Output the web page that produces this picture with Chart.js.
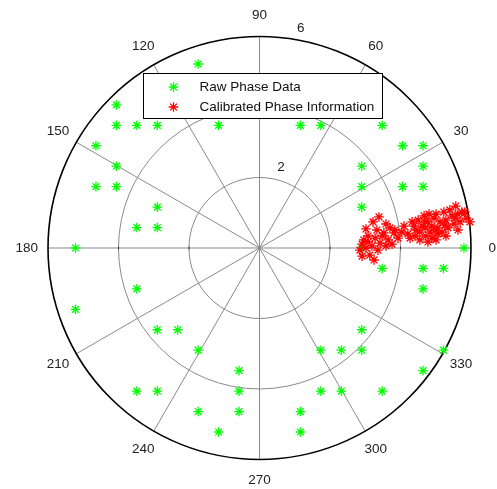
<!DOCTYPE html>
<html>
<head>
<meta charset="utf-8">
<script src="https://cdn.jsdelivr.net/npm/chart.js@4/dist/chart.umd.min.js"></script>
<style>
  html, body { margin: 0; padding: 0; background: #fff; }
  #wrap { width: 497px; height: 489px; }
</style>
</head>
<body>
<div id="wrap"><canvas id="polarChart" width="497" height="489"></canvas></div>
<script>
// raw phase data (in-phase / quadrature)
const rawI = [-1.74, -4.06, -4.06, -3.48, -2.90, -1.16, -4.64, -4.06, -4.64, -4.06, -2.90, -3.48, -2.90, -5.22,
  1.16, 1.74, 3.48, 4.06, 4.64, 2.90, 4.64, 2.90, 4.06, 4.64, 2.90, 5.80, 2.90,
  -3.48, -5.22, -2.90, -2.32, -1.74, -0.58, -3.48, -2.90, -0.58, -1.74, -0.58, -1.16,
  3.48, 4.64, 5.22, 4.64, 2.90, 1.74, 2.32, 2.90, 5.22, 4.64, 1.74, 2.32, 3.48, 1.16, 1.16];
const rawQ = [5.22, 4.06, 3.48, 3.48, 3.48, 3.48, 2.90, 2.32, 1.74, 1.74, 1.16, 0.58, 0.58, 0,
  3.48, 3.48, 3.48, 2.90, 2.90, 2.32, 2.32, 1.74, 1.74, 1.74, 1.16, 0, 0,
  -1.16, -1.74, -2.32, -2.32, -2.90, -3.48, -4.06, -4.06, -4.06, -4.64, -4.64, -5.22,
  -0.58, -0.58, -0.58, -1.16, -2.32, -2.90, -2.90, -2.90, -2.90, -3.48, -4.06, -4.06, -4.06, -4.64, -5.22];

// calibrated phase information (red cluster)
const calI = [3.39, 3.22, 3.59, 3.70, 3.02, 3.33, 3.53, 3.82, 3.28, 3.65, 3.93, 3.08, 3.42, 2.91, 3.19, 3.59,
  2.85, 3.02, 3.36, 3.13, 2.96, 3.76,
  4.04, 4.21, 4.33, 4.50, 4.44, 4.61, 4.67, 4.78, 4.84, 4.95, 4.89, 4.72, 5.06, 5.01, 5.12, 5.18,
  5.23, 5.29, 5.35, 5.40, 5.46, 5.52, 5.57, 5.63, 5.69, 5.74, 5.86, 5.97, 4.55, 4.78, 5.01, 4.27,
  4.10, 5.29, 5.63, 4.70, 4.89, 5.06, 4.55, 4.38, 4.81,
  5.26, 4.98, 4.70, 4.41, 3.84, 3.48, 3.08, 2.91, 3.25, 5.55, 5.83];
const calQ = [0.88, 0.74, 0.68, 0.57, 0.54, 0.51, 0.43, 0.43, 0.28, 0.23, 0.28, 0.17, 0.14, 0.11, 0.06, 0.06,
  -0.06, 0.00, -0.06, -0.20, 0.23, 0.11,
  0.45, 0.40, 0.74, 0.79, 0.51, 0.62, 0.91, 0.74, 0.45, 0.85, 0.28, 0.34, 0.57, 0.96, 0.74, 0.45,
  1.02, 0.79, 0.57, 1.08, 0.91, 0.68, 1.19, 0.96, 0.74, 1.02, 0.85, 0.74, 0.23, 0.17, 0.23, 0.28,
  0.62, 0.34, 0.51, 0.57, 0.62, 0.40, 0.45, 0.62, 0.96,
  0.65, 0.51, 0.74, 0.34, 0.51, 0.34, 0.34, -0.23, -0.34, 0.85, 1.02];

const rings = [2, 4, 6];
const spokeAngles = [0, 30, 60, 90, 120, 150, 180, 210, 240, 270, 300, 330];
const seriesNames = ["Raw Phase Data", "Calibrated Phase Information"];
const seriesColors = ["#00ff00", "#ff0000"];

const FONT = '13.5px "Liberation Sans", Arial, sans-serif';

function toPoints(xs, ys) {
  return xs.map((v, i) => ({ x: v, y: ys[i] }));
}

const polarGrid = {
  id: "polarGrid",
  beforeDatasetsDraw(chart) {
    const { ctx, scales: { x, y } } = chart;
    const cx = x.getPixelForValue(0);
    const cy = y.getPixelForValue(0);
    const unit = x.getPixelForValue(1) - cx;
    const rMax = rings[rings.length - 1];
    ctx.save();

    // inner rings
    ctx.strokeStyle = "#8a8a8a";
    ctx.lineWidth = 1;
    rings.slice(0, -1).forEach(r => {
      ctx.beginPath();
      ctx.arc(cx, cy, r * unit, 0, Math.PI * 2);
      ctx.stroke();
    });

    // spokes through the centre
    for (let a = 0; a < 180; a += 30) {
      const t = a * Math.PI / 180;
      ctx.beginPath();
      ctx.moveTo(cx + Math.cos(t) * rMax * unit, cy - Math.sin(t) * rMax * unit);
      ctx.lineTo(cx - Math.cos(t) * rMax * unit, cy + Math.sin(t) * rMax * unit);
      ctx.stroke();
    }

    // small ticks on the horizontal axis
    ctx.strokeStyle = "#333";
    [-4, -2, 2, 4].forEach(r => {
      ctx.beginPath();
      ctx.moveTo(cx + r * unit, cy - 1.5);
      ctx.lineTo(cx + r * unit, cy + 1.5);
      ctx.stroke();
    });

    // outer circle
    ctx.strokeStyle = "#000";
    ctx.lineWidth = 1.6;
    ctx.beginPath();
    ctx.arc(cx, cy, rMax * unit, 0, Math.PI * 2);
    ctx.stroke();

    // angle labels
    ctx.fillStyle = "#222";
    ctx.font = FONT;
    ctx.textAlign = "center";
    ctx.textBaseline = "middle";
    spokeAngles.forEach(a => {
      const t = a * Math.PI / 180;
      const rl = rMax * 1.1 * unit;
      ctx.fillText(String(a), cx + Math.cos(t) * rl, cy - Math.sin(t) * rl);
    });

    // ring labels at 82 degrees
    ctx.textAlign = "left";
    ctx.textBaseline = "alphabetic";
    const t82 = 82 * Math.PI / 180;
    rings.forEach(r => {
      const rr = (r + 0.1) * unit;
      ctx.fillText("  " + r, cx + Math.cos(t82) * rr, cy - Math.sin(t82) * rr - 3.5);
    });
    ctx.restore();
  },
  afterDraw(chart) {
    const { ctx } = chart;
    ctx.save();
    const bx = 143.5, by = 73.5, bw = 239, bh = 45;
    ctx.fillStyle = "#fff";
    ctx.fillRect(bx, by, bw, bh);
    ctx.strokeStyle = "#000";
    ctx.lineWidth = 1;
    ctx.strokeRect(bx, by, bw, bh);
    ctx.font = FONT;
    ctx.textBaseline = "middle";
    ctx.textAlign = "left";
    seriesNames.forEach((name, i) => {
      const ly = 87 + i * 20;
      ctx.strokeStyle = seriesColors[i];
      ctx.lineWidth = 1.3;
      Chart.helpers.drawPoint(ctx, { pointStyle: "star", radius: 4.8, borderWidth: 1.3 }, 173.5, ly);
      ctx.fillStyle = "#111";
      ctx.fillText(name, 199.5, ly + 0.5);
    });
    ctx.restore();
  }
};

new Chart(document.getElementById("polarChart"), {
  type: "scatter",
  data: {
    datasets: [
      {
        label: seriesNames[0],
        data: toPoints(rawI, rawQ),
        pointStyle: "star",
        pointRadius: 4.8,
        borderColor: seriesColors[0],
        backgroundColor: seriesColors[0],
        borderWidth: 1.3,
        order: 2
      },
      {
        label: seriesNames[1],
        data: toPoints(calI, calQ),
        pointStyle: "star",
        pointRadius: 4.8,
        borderColor: seriesColors[1],
        backgroundColor: seriesColors[1],
        borderWidth: 1.3,
        order: 1
      }
    ]
  },
  options: {
    responsive: false,
    animation: false,
    layout: { padding: 0, autoPadding: false },
    plugins: { legend: { display: false }, tooltip: { enabled: false } },
    scales: {
      x: { type: "linear", display: false, min: -7.362, max: 6.738 },
      y: { type: "linear", display: false, min: -6.837, max: 7.035 }
    }
  },
  plugins: [polarGrid]
});
</script>
</body>
</html>
